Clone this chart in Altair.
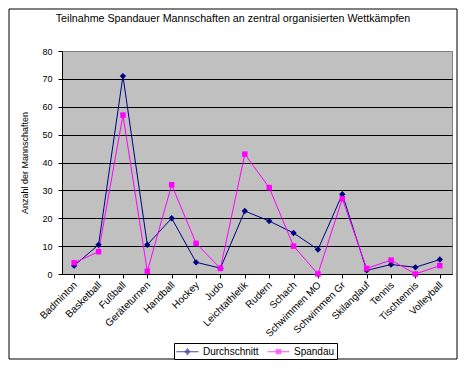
import altair as alt
import pandas as pd

categories = ["Badminton", "Basketball", "Fußball", "Geräteturnen", "Handball", "Hockey",
              "Judo", "Leichtathletik", "Rudern", "Schach", "Schwimmen MO", "Schwimmen Gr",
              "Skilanglauf", "Tennis", "Tischtennis", "Volleyball"]
durchschnitt = [3, 10.5, 71, 10.5, 20, 4.2, 2.1, 22.6, 19, 14.7, 8.8, 28.6, 1.3, 3.4, 2.4, 5.2]
spandau = [4, 8, 57, 1, 32, 11, 2, 43, 31, 10, 0, 27, 2, 5, 0, 3]
series_names = ["Durchschnitt", "Spandau"]
series_colors = ["#000080", "#FF00FF"]

rows = []
for name, vals in zip(series_names, [durchschnitt, spandau]):
    for c, v in zip(categories, vals):
        rows.append({"cat": c, "value": v, "series": name})
df = pd.DataFrame(rows)

FONT = "Arial, Liberation Sans, sans-serif"

xaxis = alt.Axis(title=None, labelAngle=-45, labelFontSize=10, labelFont=FONT,
                 labelAlign="right", labelBaseline="middle",
                 labelColor="black", domainColor="black", tickColor="black",
                 tickSize=4, bandPosition=0, labelOffset=1, labelPadding=5,
                 grid=False)
yaxis = alt.Axis(title="Anzahl der Mannschaften", values=list(range(0, 81, 10)),
                 labelFontSize=9, labelFont=FONT, labelColor="black",
                 titleFont=FONT, titleFontSize=9, titleFontWeight="normal",
                 titleColor="black", titlePadding=12,
                 domainColor="black", tickColor="black", tickSize=4, labelPadding=6,
                 grid=True,
                 gridColor={"condition": {"test": "datum.value == 80", "value": "#808080"},
                            "value": "black"},
                 gridOpacity=1, gridWidth=1)

xenc = alt.X("cat:N", sort=categories,
             scale=alt.Scale(domain=categories, paddingInner=0, paddingOuter=0),
             axis=xaxis)
yenc = alt.Y("value:Q", scale=alt.Scale(domain=[0, 80], nice=False), axis=yaxis)

base = alt.Chart(df)

lines = base.mark_line(strokeWidth=1).encode(
    x=xenc, y=yenc,
    color=alt.Color("series:N", scale=alt.Scale(domain=series_names, range=series_colors), legend=None),
    detail="series:N",
)

points = base.mark_point(filled=True, opacity=1).encode(
    x=xenc, y=yenc,
    color=alt.Color("series:N", scale=alt.Scale(domain=series_names, range=series_colors), legend=None),
    shape=alt.Shape("series:N", scale=alt.Scale(domain=series_names, range=["diamond", "square"]),
                    legend=None),
    size=alt.Size("series:N", scale=alt.Scale(domain=series_names, range=[40, 30]), legend=None),
)

# legend symbols (stroke-only paths): line segment plus a marker built from short strokes
def path_rows(rows_px, unit=6.0):
    d = "M-1,0H2.67"
    for y, x0, x1 in rows_px:
        d += "M%.3f,%.3fH%.3f" % (x0 / unit, y / unit, x1 / unit)
    return d

sym_diamond = path_rows([(-3, 4.5, 5.5), (-2, 3.8, 6.2), (-1, 2.8, 7.2), (0, 2.0, 8.0),
                         (1, 2.8, 7.2), (2, 3.8, 6.2), (3, 4.5, 5.5)])
sym_square = path_rows([(-2, 2.2, 7.8), (-1, 2.2, 7.8), (0, 2.2, 7.8), (1, 2.2, 7.8), (2, 2.2, 7.8)])

leg = alt.Legend(title=None, orient="none", legendX=112, legendY=292,
                 direction="horizontal", fillColor="white", strokeColor="black",
                 padding=2, labelFont=FONT, labelFontSize=10, labelColor="black",
                 symbolSize=144, symbolStrokeWidth=1, labelOffset=14,
                 columnPadding=6, cornerRadius=0)
legend_layer = base.transform_filter("false").mark_point(filled=False, strokeWidth=1).encode(
    x=xenc, y=yenc,
    color=alt.Color("series:N", scale=alt.Scale(domain=series_names, range=series_colors), legend=leg),
    shape=alt.Shape("series:N", scale=alt.Scale(domain=series_names, range=[sym_diamond, sym_square]),
                    legend=leg),
)

# outer chart frame
frame = alt.Chart(pd.DataFrame({"k": [0]})).mark_rect(fill=None, stroke="black", strokeWidth=1).encode(
    x=alt.value(-53), x2=alt.value(395), y=alt.value(-42), y2=alt.value(308)
)

chart = alt.layer(frame, lines, points, legend_layer).resolve_scale(
    color="independent", shape="independent", size="independent"
).properties(
    width=390, height=223,
    title=alt.TitleParams("Teilnahme Spandauer Mannschaften an zentral organisierten Wettkämpfen",
                          font=FONT, fontSize=10.7, fontWeight="normal", color="black",
                          anchor="middle", frame="group", dx=-24, offset=-24,
                          baseline="alphabetic"),
    padding={"left": 54, "top": 43, "right": 6, "bottom": 86},
    autosize=alt.AutoSizeParams(type="none"),
    background="white",
).configure_view(fill="#C0C0C0", stroke="#808080", strokeWidth=1)

chart.save("out.html", embed_options={"renderer": "svg", "actions": False})
